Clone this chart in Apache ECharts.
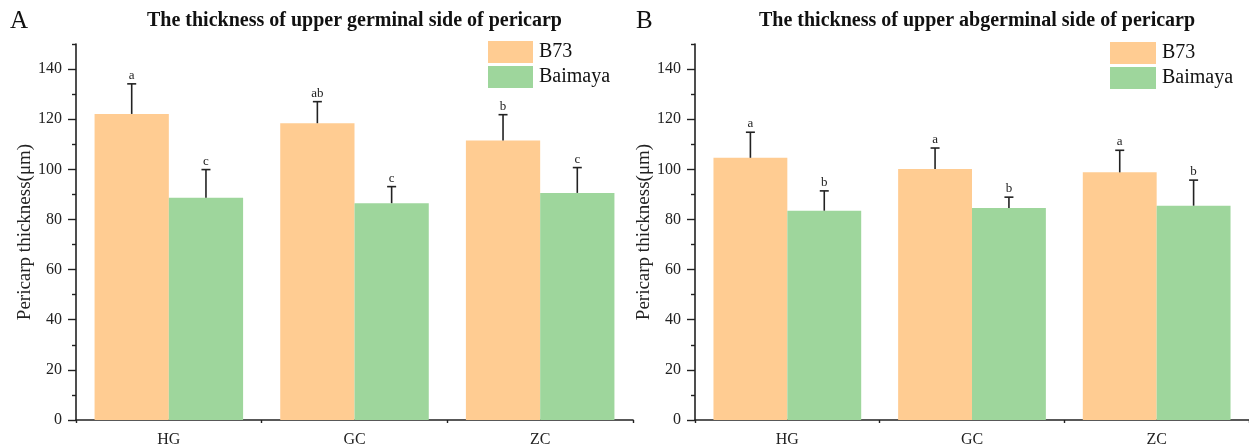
<!DOCTYPE html>
<html>
<head>
<meta charset="utf-8">
<script src="https://cdn.jsdelivr.net/npm/echarts@6/dist/echarts.min.js"></script>
<style>
html,body{margin:0;padding:0;background:#fff;}
#chart{width:1249px;height:448px;}
</style>
</head>
<body>
<div id="chart"></div>
<script>
// ---- data ----
const categories = ['HG', 'GC', 'ZC'];
const seriesNames = ['B73', 'Baimaya'];

// Panel A: upper germinal side
const aB73 = [122.1, 118.4, 111.5];
const aB73Err = [12.0, 8.6, 10.3];
const aB73Letters = ['a', 'ab', 'b'];
const aBaimaya = [88.7, 86.5, 90.6];
const aBaimayaErr = [11.2, 6.6, 10.1];
const aBaimayaLetters = ['c', 'c', 'c'];

// Panel B: upper abgerminal side
const bB73 = [104.6, 100.1, 98.8];
const bB73Err = [10.2, 8.4, 8.8];
const bB73Letters = ['a', 'a', 'a'];
const bBaimaya = [83.5, 84.6, 85.5];
const bBaimayaErr = [7.9, 4.3, 10.2];
const bBaimayaLetters = ['b', 'b', 'b'];

const titles = ['The thickness of upper germinal side of pericarp', 'The thickness of upper abgerminal side of pericarp'];
const panelLetters = ['A', 'B'];
const yName = 'Pericarp thickness(\u03bcm)';
const yMajorTicks = [0, 20, 40, 60, 80, 100, 120, 140];
const yMinorTicks = [10, 30, 50, 70, 90, 110, 130, 150];
const yMax = 150;

// ---- style ----
const FONT = "'Liberation Serif', 'Times New Roman', 'DejaVu Serif', serif";
const ORANGE = '#FFCC92';
const GREEN = '#9ED69C';
const INK = '#222';

const chart = echarts.init(document.getElementById('chart'), null, {renderer: 'canvas'});

function errSeries(name, gridIdx, vals, errs, letters, side) {
  return {
    type: 'custom',
    name: name + ' err',
    xAxisIndex: gridIdx * 2,
    yAxisIndex: gridIdx * 2,
    z: 5,
    silent: true,
    data: vals.map((v, i) => [i, v, errs[i]]),
    renderItem: function (params, api) {
      const i = api.value(0);
      const v = api.value(1);
      const e = api.value(2);
      const band = api.size([1, 0])[0];
      const off = side * 0.2 * band;
      const base = api.coord([i, v]);
      const top = api.coord([i, v + e]);
      const x = base[0] + off;
      return {
        type: 'group',
        children: [
          {type: 'line', shape: {x1: x, y1: base[1], x2: x, y2: top[1]}, style: {stroke: INK, lineWidth: 1.6}},
          {type: 'line', shape: {x1: x - 4.5, y1: top[1], x2: x + 4.5, y2: top[1]}, style: {stroke: INK, lineWidth: 1.6}},
          {type: 'text', x: x, y: top[1] - 2, style: {text: letters[params.dataIndex], fill: INK, font: '13px ' + FONT, align: 'center', verticalAlign: 'bottom'}}
        ]
      };
    }
  };
}

function barSeries(name, gridIdx, vals, color) {
  return {
    type: 'bar',
    name: name,
    xAxisIndex: gridIdx * 2,
    yAxisIndex: gridIdx * 2,
    data: vals,
    barGap: '0%',
    barCategoryGap: '20%',
    itemStyle: {color: color},
    emphasis: {disabled: true}
  };
}

const grids = [
  {left: 76, right: 1249 - 633, top: 44, bottom: 28},
  {left: 695, right: -7, top: 44, bottom: 28}
];

const xAxes = [];
const yAxes = [];
[0, 1].forEach(g => {
  xAxes.push({
    type: 'category', gridIndex: g, data: categories, position: 'bottom',
    axisLine: {lineStyle: {color: INK, width: 1.6}},
    axisTick: {alignWithLabel: true, length: 6, lineStyle: {color: INK, width: 1.6}},
    axisLabel: {color: INK, fontSize: 16, fontFamily: FONT, margin: 12},
    splitLine: {show: false}
  });
  xAxes.push({
    type: 'category', gridIndex: g, data: categories, position: 'bottom',
    axisLine: {show: false},
    axisTick: {show: true, length: 3, lineStyle: {color: INK, width: 1.4}},
    axisLabel: {show: false},
    splitLine: {show: false}
  });
  yAxes.push({
    type: 'value', gridIndex: g, min: 0, max: yMax, interval: 10, position: 'left',
    name: yName, nameLocation: 'middle', nameGap: 39,
    nameTextStyle: {fontSize: 19, fontFamily: FONT, color: INK},
    axisLine: {show: true, lineStyle: {color: INK, width: 1.6}},
    axisTick: {show: true, length: 8, customValues: yMajorTicks, lineStyle: {color: INK, width: 1.4}},
    axisLabel: {color: INK, fontSize: 16, fontFamily: FONT, margin: 14, customValues: yMajorTicks},
    splitLine: {show: false}
  });
  yAxes.push({
    type: 'value', gridIndex: g, min: 0, max: yMax, interval: 10, position: 'left',
    axisLine: {show: false},
    axisTick: {show: true, length: 4, customValues: yMinorTicks, lineStyle: {color: INK, width: 1.4}},
    axisLabel: {show: false},
    splitLine: {show: false}
  });
});

const option = {
  animation: false,
  backgroundColor: '#fff',
  textStyle: {fontFamily: FONT},
  title: [
    {text: panelLetters[0], left: 10, top: 9, padding: 0, textStyle: {fontSize: 25, fontWeight: 'normal', fontFamily: FONT, color: '#111'}},
    {text: titles[0], left: 147, top: 11, padding: 0, textStyle: {fontSize: 20, fontWeight: 'bold', fontFamily: FONT, color: '#111'}},
    {text: panelLetters[1], left: 636, top: 9, padding: 0, textStyle: {fontSize: 25, fontWeight: 'normal', fontFamily: FONT, color: '#111'}},
    {text: titles[1], left: 759, top: 11, padding: 0, textStyle: {fontSize: 20, fontWeight: 'bold', fontFamily: FONT, color: '#111'}}
  ],
  legend: [
    {orient: 'vertical', left: 488, top: 41, padding: 0, itemWidth: 45, itemHeight: 22, itemGap: 3, icon: 'rect',
     data: seriesNames, selectedMode: false, textStyle: {fontSize: 20, fontFamily: FONT, color: '#111', padding: [0, 0, 0, 1]}},
    {orient: 'vertical', left: 1110, top: 42, padding: 0, itemWidth: 46, itemHeight: 22, itemGap: 3, icon: 'rect',
     data: seriesNames, selectedMode: false, textStyle: {fontSize: 20, fontFamily: FONT, color: '#111', padding: [0, 0, 0, 1]}}
  ],
  grid: grids,
  xAxis: xAxes,
  yAxis: yAxes,
  series: [
    barSeries(seriesNames[0], 0, aB73, ORANGE),
    barSeries(seriesNames[1], 0, aBaimaya, GREEN),
    errSeries(seriesNames[0], 0, aB73, aB73Err, aB73Letters, -1),
    errSeries(seriesNames[1], 0, aBaimaya, aBaimayaErr, aBaimayaLetters, 1),
    barSeries(seriesNames[0], 1, bB73, ORANGE),
    barSeries(seriesNames[1], 1, bBaimaya, GREEN),
    errSeries(seriesNames[0], 1, bB73, bB73Err, bB73Letters, -1),
    errSeries(seriesNames[1], 1, bBaimaya, bBaimayaErr, bBaimayaLetters, 1)
  ]
};
chart.setOption(option);
</script>
</body>
</html>
